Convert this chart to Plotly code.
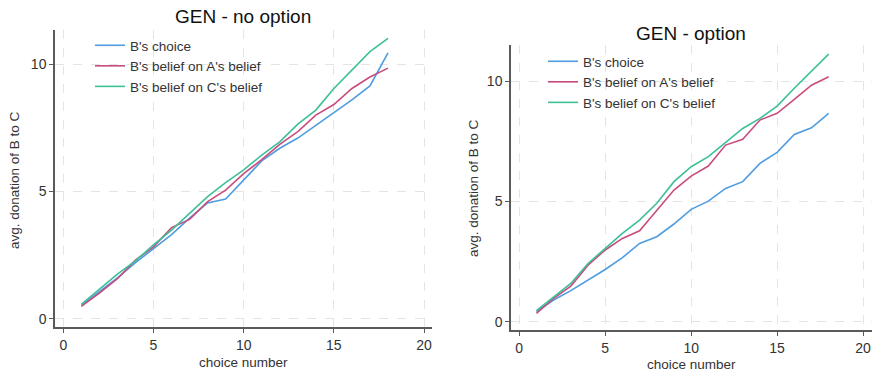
import plotly.graph_objects as go

choice_number = list(range(1, 19))

# GEN - no option
noopt_choice = [0.52, 1.05, 1.6, 2.2, 2.75, 3.3, 3.95, 4.55, 4.7, 5.45, 6.2, 6.7, 7.1, 7.6, 8.1, 8.6, 9.15, 10.45]
noopt_belief_a = [0.48, 1.0, 1.57, 2.3, 2.82, 3.58, 3.9, 4.6, 5.05, 5.7, 6.25, 6.85, 7.35, 8.0, 8.42, 9.05, 9.5, 9.85]
noopt_belief_c = [0.56, 1.15, 1.75, 2.27, 2.9, 3.48, 4.13, 4.8, 5.35, 5.85, 6.43, 6.95, 7.65, 8.2, 9.05, 9.78, 10.5, 11.02]

# GEN - option
opt_choice = [0.42, 0.9, 1.29, 1.73, 2.17, 2.66, 3.25, 3.53, 4.06, 4.67, 5.01, 5.54, 5.82, 6.58, 7.04, 7.78, 8.06, 8.66]
opt_belief_a = [0.35, 0.97, 1.48, 2.35, 2.98, 3.46, 3.78, 4.64, 5.47, 6.05, 6.47, 7.34, 7.58, 8.38, 8.66, 9.24, 9.83, 10.18]
opt_belief_c = [0.46, 1.01, 1.59, 2.42, 3.05, 3.67, 4.22, 4.92, 5.82, 6.44, 6.86, 7.44, 8.03, 8.45, 8.96, 9.7, 10.39, 11.12]

series_names = ["B's choice", "B's belief on A's belief", "B's belief on C's belief"]
colors = ["#4f9de0", "#c84d7e", "#3dbf99"]
titles = ["GEN - no option", "GEN - option"]
x_ticks = [0, 5, 10, 15, 20]
y_ticks = [0, 5, 10]

FONT = "Liberation Sans, Arial, sans-serif"
W, H = 872, 374

fig = go.Figure()

panels = [
    ("x", "y", "legend", [noopt_choice, noopt_belief_a, noopt_belief_c]),
    ("x2", "y2", "legend2", [opt_choice, opt_belief_a, opt_belief_c]),
]
for xa, ya, lg, data in panels:
    for name, col, vals in zip(series_names, colors, data):
        fig.add_trace(go.Scatter(
            x=choice_number, y=vals, mode="lines", name=name,
            line=dict(color=col, width=1.6),
            xaxis=xa, yaxis=ya, legend=lg,
        ))

axis_common = dict(
    showline=True, linecolor="#5a5a5a", linewidth=1.5,
    ticks="outside", ticklen=4, tickcolor="#5a5a5a", tickwidth=1.3,
    showgrid=True, gridcolor="#e4e4e4", griddash="dash", gridwidth=1,
    zeroline=False, mirror=False,
    tickfont=dict(family=FONT, size=14, color="#333333"),
)

fig.update_layout(
    width=W, height=H,
    margin=dict(l=0, r=0, t=0, b=0),
    paper_bgcolor="white", plot_bgcolor="white",
    font=dict(family=FONT, color="#222222"),
    xaxis=dict(domain=[55 / W, 432 / W], range=[-0.46, 20.44], tickvals=x_ticks,
               anchor="y", **axis_common),
    yaxis=dict(domain=[1 - 327 / H, 1 - 30 / H], range=[-0.33, 11.35], tickvals=y_ticks,
               anchor="x", **axis_common),
    xaxis2=dict(domain=[511 / W, 1.0], range=[-0.48, 20.52], tickvals=x_ticks,
                anchor="y2", **axis_common),
    yaxis2=dict(domain=[1 - 330 / H, 1 - 45 / H], range=[-0.345, 11.5], tickvals=y_ticks,
                anchor="x2", **axis_common),
    legend=dict(x=90 / W, y=1 - 30 / H, xanchor="left", yanchor="top",
                bgcolor="rgba(0,0,0,0)", font=dict(family=FONT, size=13.5, color="#333333"),
                tracegroupgap=0, itemwidth=30),
    legend2=dict(x=543 / W, y=1 - 46 / H, xanchor="left", yanchor="top",
                 bgcolor="rgba(0,0,0,0)", font=dict(family=FONT, size=13.5, color="#333333"),
                 tracegroupgap=0, itemwidth=30),
    showlegend=True,
)

annotations = [
    dict(text=titles[0], x=243 / W, y=1 - 17 / H, font=dict(size=19, color="#111111")),
    dict(text=titles[1], x=691 / W, y=1 - 33 / H, font=dict(size=19, color="#111111")),
    dict(text="choice number", x=243 / W, y=1 - 362 / H, font=dict(size=13.5, color="#333333")),
    dict(text="choice number", x=691 / W, y=1 - 364 / H, font=dict(size=13.5, color="#333333")),
    dict(text="avg. donation of B to C", x=15 / W, y=1 - 180 / H, textangle=-90,
         font=dict(size=13.5, color="#333333")),
    dict(text="avg. donation of B to C", x=473 / W, y=1 - 188 / H, textangle=-90,
         font=dict(size=13.5, color="#333333")),
]
for a in annotations:
    a.update(xref="paper", yref="paper", showarrow=False, xanchor="center", yanchor="middle")
    a["font"]["family"] = FONT
fig.update_layout(annotations=annotations)

fig.write_html("out.html")
